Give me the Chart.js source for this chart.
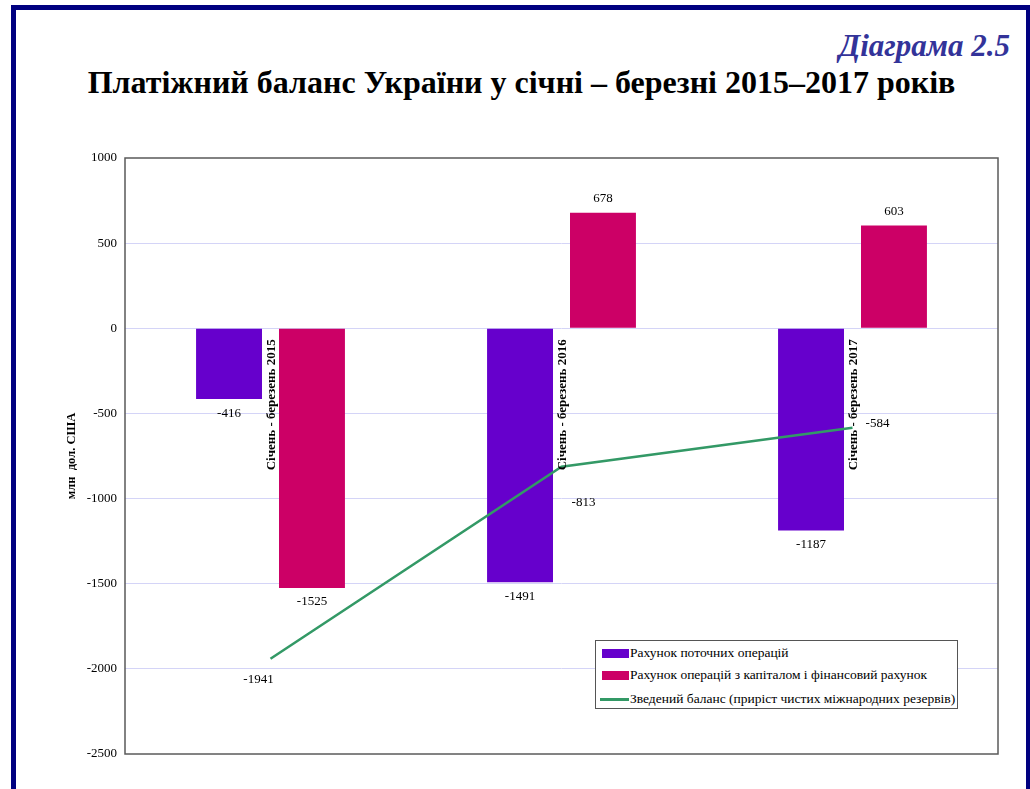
<!DOCTYPE html>
<html lang="uk">
<head>
<meta charset="utf-8">
<title>Платіжний баланс України</title>
<script src="https://cdn.jsdelivr.net/npm/chart.js@4"></script>
<style>
    html, body { margin: 0; padding: 0; background: #fff; }
    .page {
        position: relative;
        width: 1030px;
        height: 789px;
        overflow: hidden;
        font-family: "Liberation Serif", "Times New Roman", serif;
    }
    .frame {
        position: absolute;
        left: 11px; top: 5px;
        width: 1010px; height: 800px;
        border-left: 5px solid #000080;
        border-top: 5px solid #000080;
        border-right: 6px solid #000080;
        box-sizing: content-box;
    }
    .diagram-no {
        position: absolute;
        right: 20px; top: 28px;
        font-size: 31px; font-weight: bold; font-style: italic;
        color: #333399;
    }
    .title {
        position: absolute;
        left: 0; width: 1043px; top: 64px;
        text-align: center;
        font-size: 32px; font-weight: bold; color: #000;
    }
    #chart { position: absolute; left: 0; top: 0; }
    .legend {
        position: absolute;
        left: 595px; top: 640px;
        width: 361px; height: 67px;
        border: 1.5px solid #555;
        background: #fff;
        font-size: 13.5px;
    }
    .legend div { position: absolute; left: 34px; white-space: nowrap; line-height: 14px; }
    .legend span { position: absolute; left: -28px; }
</style>
</head>
<body>
<div class="page">
    <div class="frame"></div>
    <div class="diagram-no">Діаграма 2.5</div>
    <div class="title">Платіжний баланс України у січні – березні 2015–2017 років</div>
    <canvas id="chart" width="1030" height="789"></canvas>
    <div class="legend" id="legend"></div>
</div>
<script>
// Data (млн дол. США)
const periods = ['Січень - березень 2015', 'Січень - березень 2016', 'Січень - березень 2017'];
const currentAccount = [-416, -1491, -1187];
const capitalFinancialAccount = [-1525, 678, 603];
const overallBalance = [-1941, -813, -584];
const yTicks = [1000, 500, 0, -500, -1000, -1500, -2000, -2500];

const seriesNames = [
    'Рахунок поточних операцій',
    'Рахунок операцій з капіталом і фінансовий рахунок',
    'Зведений баланс (приріст чистих міжнародних резервів)'
];
const colors = ['#6600cc', '#cc0066', '#339966'];
const FONT = '"Liberation Serif", "Times New Roman", serif';

/**
 * Plot frame, category names and value labels
 */
const decorPlugin = {
    id: 'decor',
    afterDatasetsDraw(chart) {
        const ctx = chart.ctx;
        const area = chart.chartArea;
        const xScale = chart.scales.x;
        const yScale = chart.scales.y;
        const zeroY = yScale.getPixelForValue(0);

        ctx.save();
        // frame
        ctx.strokeStyle = '#5a5a5a';
        ctx.lineWidth = 1.5;
        ctx.strokeRect(area.left, area.top, area.right - area.left, area.bottom - area.top);

        // category names, vertical, just under zero line
        ctx.fillStyle = '#000';
        ctx.font = 'bold 13px ' + FONT;
        ctx.textAlign = 'right';
        ctx.textBaseline = 'middle';
        periods.forEach((label, i) => {
            const x = xScale.getPixelForValue(i);
            ctx.save();
            ctx.translate(x + 1, zeroY + 11);
            ctx.rotate(-Math.PI / 2);
            ctx.fillText(label, 0, 0);
            ctx.restore();
        });

        // bar value labels
        ctx.font = '13px ' + FONT;
        ctx.textAlign = 'center';
        [0, 1].forEach(d => {
            const meta = chart.getDatasetMeta(d);
            meta.data.forEach((bar, i) => {
                const v = chart.data.datasets[d].data[i];
                const y = v < 0 ? bar.y + 14 : bar.y - 14;
                ctx.fillText(String(v), bar.x, y);
            });
        });

        // line value labels
        const lineOffsets = [[-12, 21], [22, 36], [25, -4]];
        const lineMeta = chart.getDatasetMeta(2);
        lineMeta.data.forEach((pt, i) => {
            const off = lineOffsets[i];
            ctx.fillText(String(overallBalance[i]), pt.x + off[0], pt.y + off[1]);
        });
        ctx.restore();
    }
};

function buildLegend() {
    const legend = document.getElementById('legend');
    const rows = [5, 27, 51];
    seriesNames.forEach((name, i) => {
        const row = document.createElement('div');
        row.style.top = rows[i] + 'px';
        const swatch = document.createElement('span');
        if (i < 2) {
            swatch.style.cssText = 'top:3px;width:27px;height:9px;background:' + colors[i];
        } else {
            swatch.style.cssText = 'left:-30px;top:6px;width:29px;height:3px;background:' + colors[i];
        }
        row.appendChild(swatch);
        row.appendChild(document.createTextNode(name));
        legend.appendChild(row);
    });
}

document.addEventListener('DOMContentLoaded', function() {
    buildLegend();

    new Chart(document.getElementById('chart'), {
        data: {
            labels: periods,
            datasets: [
                {
                    type: 'bar',
                    label: seriesNames[0],
                    data: currentAccount,
                    backgroundColor: colors[0],
                    categoryPercentage: 0.57,
                    barPercentage: 0.795,
                    order: 2
                },
                {
                    type: 'bar',
                    label: seriesNames[1],
                    data: capitalFinancialAccount,
                    backgroundColor: colors[1],
                    categoryPercentage: 0.57,
                    barPercentage: 0.795,
                    order: 2
                },
                {
                    type: 'line',
                    label: seriesNames[2],
                    data: overallBalance,
                    borderColor: colors[2],
                    borderWidth: 2.5,
                    pointRadius: 0,
                    tension: 0,
                    order: 1
                }
            ]
        },
        options: {
            responsive: false,
            animation: false,
            layout: { padding: { left: 60, top: 158, right: 32, bottom: 35 } },
            plugins: {
                legend: { display: false },
                tooltip: { enabled: false }
            },
            scales: {
                x: {
                    display: false,
                    offset: true
                },
                y: {
                    min: -2500,
                    max: 1000,
                    afterBuildTicks: scale => {
                        scale.ticks = yTicks.map(v => ({ value: v }));
                    },
                    afterFit: scale => { scale.width = 65; },
                    border: { display: false },
                    grid: {
                        color: ctx => (ctx.tick && (ctx.tick.value === 1000 || ctx.tick.value === -2500)) ? 'rgba(0,0,0,0)' : '#d4d4f7',
                        lineWidth: 1,
                        drawTicks: false
                    },
                    ticks: {
                        padding: 8,
                        color: '#000',
                        font: { family: FONT, size: 13 },
                        callback: value => String(value)
                    },
                    title: {
                        display: true,
                        text: 'млн  дол. США',
                        color: '#000',
                        padding: { top: 4, bottom: 0 },
                        font: { family: FONT, size: 12.5, weight: 'bold' }
                    }
                }
            }
        },
        plugins: [decorPlugin]
    });
});
</script>
</body>
</html>
